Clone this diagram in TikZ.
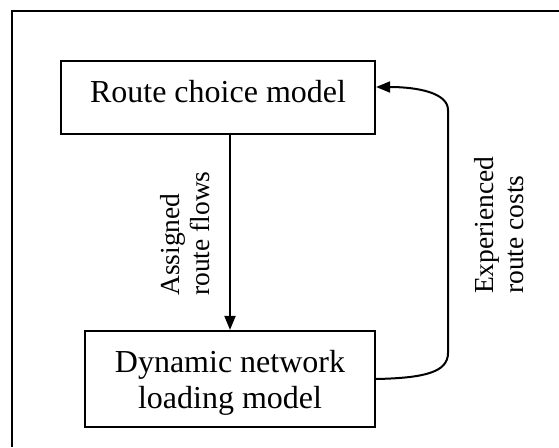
\documentclass[tikz,border=0pt]{standalone}
\usepackage{fontspec}
\setmainfont{Liberation Serif}
\usetikzlibrary{arrows.meta}

\tikzset{
  modelbox/.style={draw, line width=2.2pt, inner sep=0pt,
    font=\fontsize{32}{36}\selectfont, align=center},
  flowlabel/.style={rotate=90, inner sep=0pt, anchor=west, align=left,
    font=\fontsize{27.5}{30}\selectfont},
  link/.style={line width=2pt, -{Triangle[length=14pt,width=11pt]}},
  frame/.style={line width=2pt}
}

\begin{document}
\begin{tikzpicture}[x=1pt,y=-1pt]
  \useasboundingbox (0,0) rectangle (559,447);

  % outer frame (only top and left edges fall inside the page)
  \coordinate (fbl) at (12,447);
  \coordinate (ftl) at (12,11);
  \coordinate (ftr) at (559,11);
  \draw[frame] (fbl) -- (ftl) -- (ftr);

  % the two models
  \node[modelbox, minimum width=314pt, minimum height=73pt,
        text height=22pt, text depth=13pt] (rcm) at (218,97.5) {Route choice model};
  \node[modelbox, minimum width=290pt, minimum height=96pt] (dnl) at (230,379)
        {\rule{0pt}{30pt}Dynamic network\\loading model};

  % assigned flows go down
  \draw[link] (dnl.north |- rcm.south) -- (dnl.north);
  \node[flowlabel] (aflows) at (185,296) {Assigned\\route flows};

  % experienced costs come back up
  \coordinate (costin) at ([yshift=10.5pt]rcm.east);
  \draw[link] (dnl.east) .. controls (425,378) and (448,372) .. (448,353)
        -- (448,110) .. controls (448,93) and (418,87) .. (costin);
  \node[flowlabel] (ecosts) at (499,294) {Experienced\\route costs};
\end{tikzpicture}
\end{document}
